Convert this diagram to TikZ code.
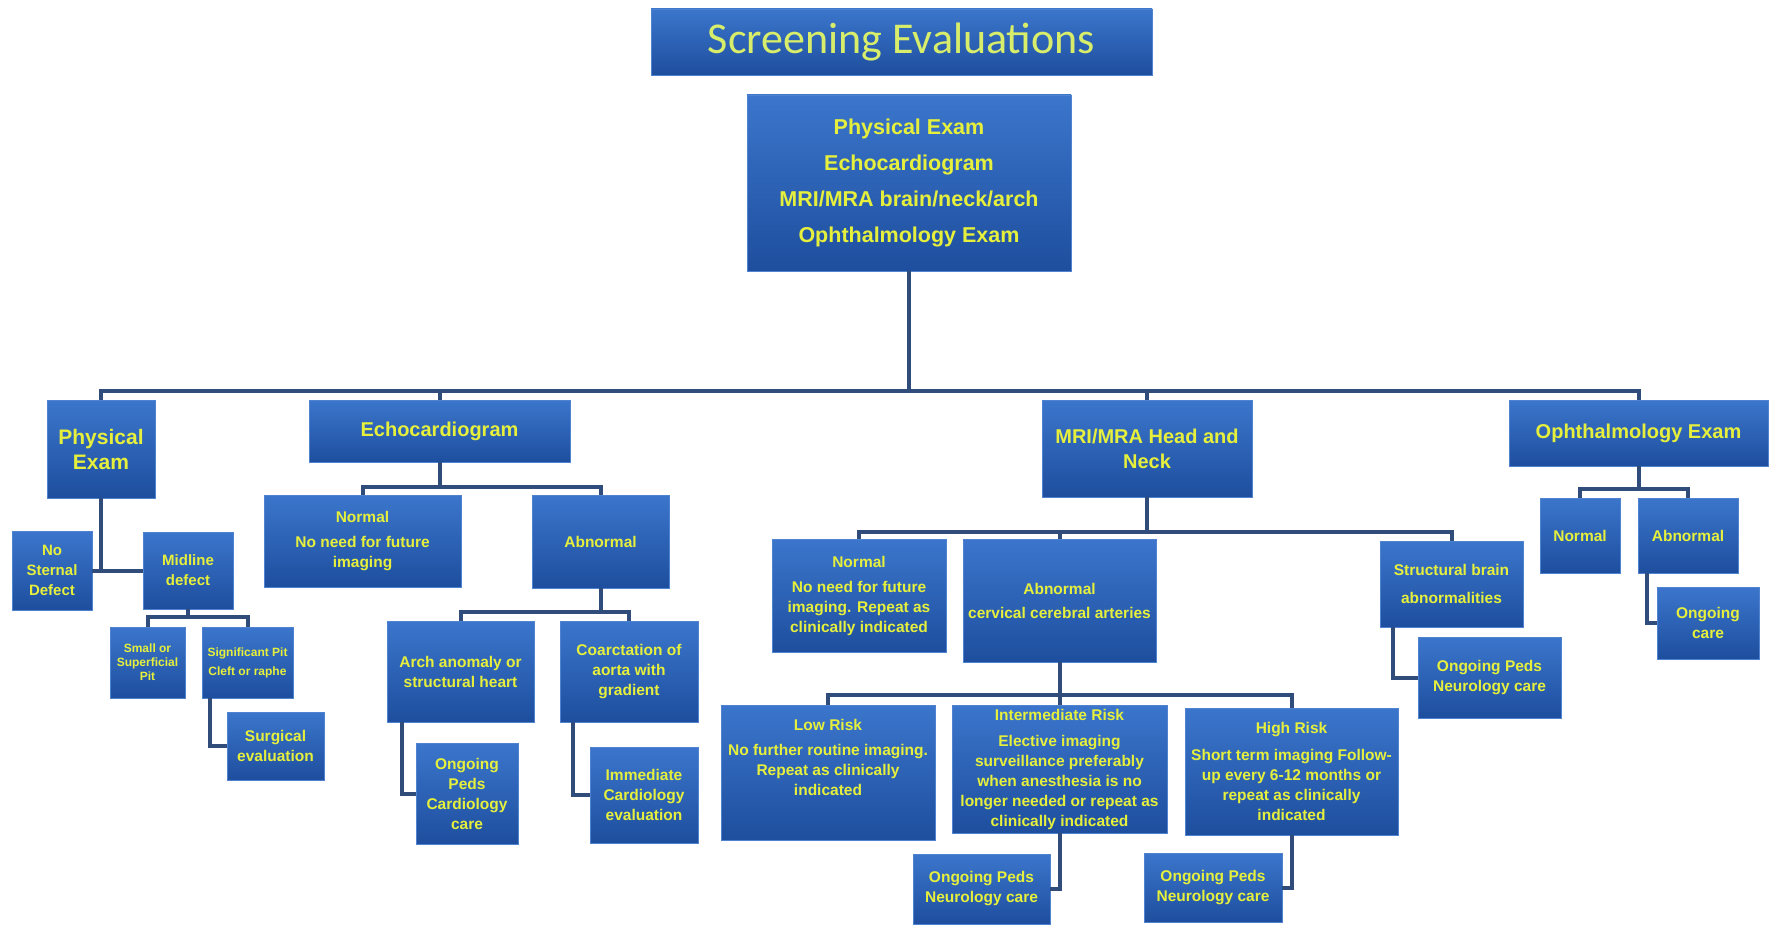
\documentclass[tikz,border=0pt]{standalone}
\usepackage{fontspec}
\setmainfont{Liberation Sans}
\newfontfamily\titlefont{Carlito}

\definecolor{boxtop}{HTML}{3B76CC}
\definecolor{boxbot}{HTML}{1E4E9E}
\definecolor{boxedge}{HTML}{4F82CF}
\definecolor{boxtext}{HTML}{E6F03C}
\definecolor{titletext}{HTML}{D8EE6A}
\definecolor{linkcol}{HTML}{304C7A}

\tikzset{
  box/.style={rectangle, draw=boxedge, line width=0.8pt, top color=boxtop, bottom color=boxbot,
    text=boxtext, align=center, inner sep=0pt, font=\bfseries\fontsize{15.5}{20}\selectfont},
  wh/.style 2 args={minimum width=#1pt, minimum height=#2pt},
  headfont/.style={font=\bfseries\fontsize{20}{25}\selectfont},
  tinyfont/.style={font=\bfseries\fontsize{12}{14}\selectfont},
  link/.style={draw=linkcol, line width=4pt},
}

\begin{document}
\begin{tikzpicture}[x=1pt,y=-1pt]
  \useasboundingbox[fill=white] (0,0) rectangle (1769,925);

  % Title and screening list
  \node[box,wh={501}{66},text=titletext,font=\titlefont\fontsize{44}{46}\selectfont] (title) at (901.5,42) {Screening Evaluations};
  \node[box,wh={324}{176},font=\bfseries\fontsize{21.5}{36}\selectfont] (screen) at (909,183)
    {Physical Exam\\Echocardiogram\\MRI/MRA brain/neck/arch\\Ophthalmology Exam};

  % Second row
  \node[box,wh={108}{98},font=\bfseries\fontsize{21}{25}\selectfont] (pe) at (101,449) {Physical\\Exam};
  \node[box,wh={261}{62},headfont] (echo) at (439.5,431) {Echocardiogram};
  \node[box,wh={210}{97},headfont] (mri) at (1147,448.5) {MRI/MRA Head and\\Neck};
  \node[box,wh={259}{66},headfont] (ophth) at (1638.5,433) {Ophthalmology Exam};

  % Physical exam branch
  \node[box,wh={80}{79},font=\bfseries\fontsize{15}{20}\selectfont] (nosternal) at (52,570.5) {No\\Sternal\\Defect};
  \node[box,wh={90}{77},font=\bfseries\fontsize{15}{20}\selectfont] (midline) at (188,570.5) {Midline\\defect};
  \node[box,wh={75}{71},tinyfont] (smallpit) at (147.5,662.5) {Small or\\Superficial\\Pit};
  \node[box,wh={91}{71},tinyfont] (sigpit) at (247.5,662.5) {Significant Pit\\[5pt]Cleft or raphe};
  \node[box,wh={97}{68}] (surgical) at (275.5,746) {Surgical\\evaluation};

  % Echocardiogram branch
  \node[box,wh={197}{92}] (echonorm) at (362.5,541) {Normal\\[5pt]No need for future\\imaging};
  \node[box,wh={137}{93}] (echoabn) at (600.5,541.5) {Abnormal};
  \node[box,wh={147}{101}] (arch) at (460.5,671.5) {Arch anomaly or\\structural heart};
  \node[box,wh={138}{101}] (coarct) at (629,671.5) {Coarctation of\\aorta with\\gradient};
  \node[box,wh={102}{101}] (cardcare) at (467,793.5) {Ongoing\\Peds\\Cardiology\\care};
  \node[box,wh={108}{96}] (immcard) at (644,795) {Immediate\\Cardiology\\evaluation};

  % MRI branch
  \node[box,wh={174}{113}] (mrinorm) at (859,595.5) {Normal\\[5pt]No need for future\\imaging. Repeat as\\clinically indicated};
  \node[box,wh={193}{123}] (mriabn) at (1059.5,600.5) {Abnormal\\[4pt]cervical cerebral arteries};
  \node[box,wh={143}{86}] (struct) at (1451.5,584) {Structural brain\\[8pt]abnormalities};
  \node[box,wh={143}{81}] (neurostr) at (1489.5,677.5) {Ongoing Peds\\Neurology care};
  \node[box,wh={214}{135}] (lowrisk) at (828,772.5) {Low Risk\\[5pt]No further routine imaging.\\Repeat as clinically\\indicated\\[10pt]~};
  \node[box,wh={215}{128}] (intrisk) at (1059.5,769)
    {Intermediate Risk\\[6pt]Elective imaging\\surveillance preferably\\when anesthesia is no\\longer needed or repeat as\\clinically indicated};
  \node[box,wh={213}{127}] (highrisk) at (1291.5,771.5)
    {High Risk\\[7pt]Short term imaging Follow-\\up every 6-12 months or\\repeat as clinically\\indicated};
  \node[box,wh={137}{70}] (neuroint) at (981.5,889) {Ongoing Peds\\Neurology care};
  \node[box,wh={138}{69}] (neurohigh) at (1213,887.5) {Ongoing Peds\\Neurology care};

  % Ophthalmology branch
  \node[box,wh={80}{75}] (ophnorm) at (1580,535.5) {Normal};
  \node[box,wh={100}{75}] (ophabn) at (1688,535.5) {Abnormal};
  \node[box,wh={102}{72}] (ongcare) at (1708,623) {Ongoing\\care};

  % Main connectors
  \coordinate (bus1) at (909,391);
  \draw[link] (screen.south) -- (bus1);
  \draw[link] (pe.north) |- (bus1) -| (ophth.north);
  \draw[link] (echo.north) -- (echo.north |- bus1);
  \draw[link] (mri.north) -- (mri.north |- bus1);

  % Physical exam connectors
  \draw[link] (pe.south) -- (pe.south |- nosternal.east);
  \draw[link] (nosternal.east) -- (midline.west);
  \coordinate (bus2) at (188,617);
  \draw[link] (midline.south) -- (bus2);
  \draw[link] (smallpit.north) |- (bus2) -| (sigpit.north);
  \draw[link] ([xshift=8pt]sigpit.south west) |- (surgical.west);

  % Echocardiogram connectors
  \coordinate (bus3) at (439.5,487);
  \draw[link] (echo.south) -- (bus3);
  \draw[link] (echonorm.north) |- (bus3) -| (echoabn.north);
  \coordinate (bus4) at (600.5,612);
  \draw[link] (echoabn.south) -- (bus4);
  \draw[link] (arch.north) |- (bus4) -| (coarct.north);
  \draw[link] ([xshift=15pt]arch.south west) |- (cardcare.west);
  \draw[link] ([xshift=13pt]coarct.south west) |- (immcard.west);

  % MRI connectors
  \coordinate (bus5) at (1147,532);
  \draw[link] (mri.south) -- (bus5);
  \draw[link] (mrinorm.north) |- (bus5) -| (struct.north);
  \draw[link] (mriabn.north) -- (mriabn.north |- bus5);
  \coordinate (bus6) at (1059.5,695);
  \draw[link] (mriabn.south) -- (bus6);
  \draw[link] (lowrisk.north) |- (bus6) -| (highrisk.north);
  \draw[link] (intrisk.north) -- (bus6);
  \draw[link] (intrisk.south) |- (neuroint.east);
  \draw[link] (highrisk.south) |- (neurohigh.east);
  \draw[link] ([xshift=13pt]struct.south west) |- (neurostr.west);

  % Ophthalmology connectors
  \coordinate (bus7) at (1638.5,489);
  \draw[link] (ophth.south) -- (bus7);
  \draw[link] (ophnorm.north) |- (bus7) -| (ophabn.north);
  \draw[link] ([xshift=9pt]ophabn.south west) |- (ongcare.west);
\end{tikzpicture}
\end{document}
